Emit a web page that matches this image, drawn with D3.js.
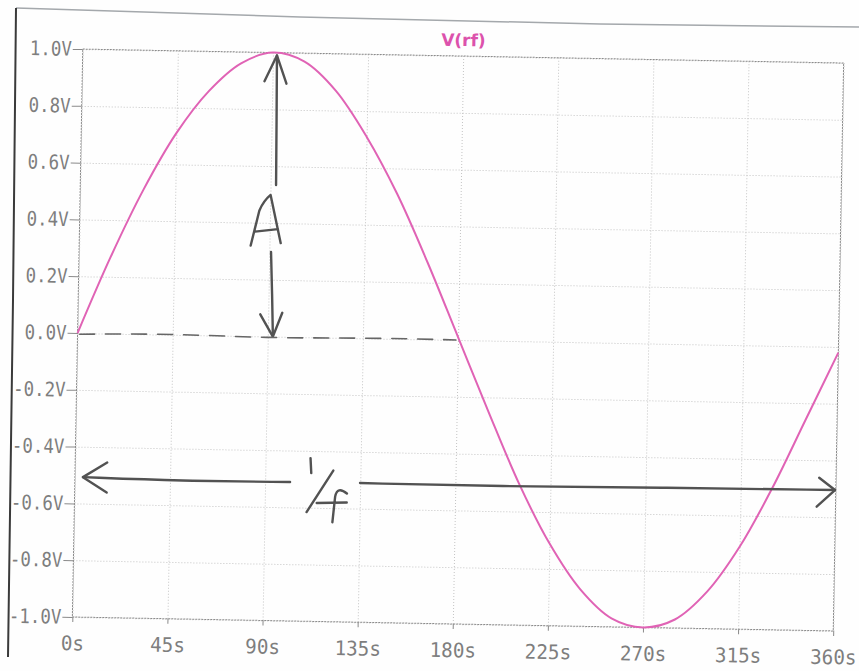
<!DOCTYPE html>
<html>
<head>
<meta charset="utf-8">
<script src="https://cdn.jsdelivr.net/npm/d3@7/dist/d3.min.js"></script>
<style>
  body { margin: 0; background: #fff; }
  svg { display: block; }
</style>
</head>
<body>
<div class="chart"></div>
<script>
// trace (seconds, volts)
const timeS = [0, 15, 30, 45, 60, 75, 90, 105, 120, 135, 150, 165, 180,
               195, 210, 225, 240, 255, 270, 285, 300, 315, 330, 345, 360];
const voltage = [0.00, 0.27, 0.51, 0.71, 0.86, 0.96, 1.00, 0.97, 0.87, 0.71, 0.51, 0.27, 0.01,
                 -0.25, -0.50, -0.71, -0.87, -0.97, -1.00, -0.97, -0.87, -0.71, -0.50, -0.26, -0.02];

const xTicks = [0, 45, 90, 135, 180, 225, 270, 315, 360];
const yTicks = [-1, -0.8, -0.6, -0.4, -0.2, 0, 0.2, 0.4, 0.6, 0.8, 1];
const traceName = "V(rf)";

// pencil notes, in data units
const ampUpperT = [91.9, 92.3, 92.6];
const ampUpperV = [0.99, 0.76, 0.534];
const ampLowerT = [90.8, 91.7, 92.4];
const ampLowerV = [0.298, 0.15, 0.0];
const zeroDashT = [1, 45, 90, 135, 179];
const zeroDashV = [-0.004, 0.004, -0.006, 0.002, 0.0];
const periodLeftT = [3.8, 50, 101.8];
const periodLeftV = [-0.507, -0.514, -0.511];
const periodRightT = [134.9, 200, 280, 359.6];
const periodRightV = [-0.51, -0.513, -0.506, -0.504];
const ampLabelAt = [92, 0.4];
const periodLabelAt = [110, -0.51];

const W = 859, H = 671;
const margin = {top: 56, right: 20.5, bottom: 47, left: 77.5};

const svg = d3.select(".chart").append("svg")
    .attr("width", W).attr("height", H);

svg.append("rect").attr("width", W).attr("height", H).attr("fill", "#fefefe");

// edges of the scanned sheet
svg.append("path")
    .attr("d", d3.line()([[16, 8], [300, 17], [600, 24], [859, 27]]))
    .attr("fill", "none").attr("stroke", "#a4a8ac").attr("stroke-width", 1.5);
svg.append("path")
    .attr("d", d3.line()([[16, 8], [13, 300], [8, 657]]))
    .attr("fill", "none").attr("stroke", "#3a3a3a").attr("stroke-width", 2);

// the whole plot sits slightly rotated on the scan
const g = svg.append("g").attr("transform", "rotate(1.05 458 340)");

const x = d3.scaleLinear().domain([0, 360]).range([margin.left, W - margin.right]);
const y = d3.scaleLinear().domain([-1, 1]).range([H - margin.bottom, margin.top]);

const fmtV = d => (d < 0 ? "-" : "") + d3.format(".1f")(Math.abs(d)) + "V";

// grid
g.append("g")
    .attr("transform", "translate(0," + y(-1) + ")")
    .call(d3.axisBottom(x).tickValues(xTicks).tickSize(y(1) - y(-1)).tickFormat(""))
    .call(a => a.select(".domain").remove())
    .selectAll("line")
    .attr("stroke", "#c4c4c4").attr("stroke-dasharray", "1,2");
g.append("g")
    .attr("transform", "translate(" + x(0) + ",0)")
    .call(d3.axisRight(y).tickValues(yTicks).tickSize(x(360) - x(0)).tickFormat(""))
    .call(a => a.select(".domain").remove())
    .selectAll("line")
    .attr("stroke", "#c4c4c4").attr("stroke-dasharray", "1,2");

// frame
g.append("rect")
    .attr("x", x(0)).attr("y", y(1))
    .attr("width", x(360) - x(0)).attr("height", y(-1) - y(1))
    .attr("fill", "none").attr("stroke", "#8c8c8c").attr("stroke-dasharray", "2,1");

// axes
const yAxis = g.append("g")
    .attr("transform", "translate(" + x(0) + ",0)")
    .call(d3.axisLeft(y).tickValues(yTicks).tickSize(10).tickPadding(1).tickFormat(fmtV));
yAxis.select(".domain").remove();
yAxis.selectAll("line").attr("stroke", "#8a8a8a");
yAxis.selectAll("text")
    .attr("fill", "#7e7e7e")
    .style("font", "20px 'DejaVu Sans Mono'")
    .attr("textLength", function(d) { return fmtV(d).length * 10.5; })
    .attr("lengthAdjust", "spacingAndGlyphs");

const xAxis = g.append("g")
    .attr("transform", "translate(0," + y(-1) + ")")
    .call(d3.axisBottom(x).tickValues(xTicks).tickSize(5).tickPadding(14).tickFormat(d => d + "s"));
xAxis.select(".domain").remove();
xAxis.selectAll("line").attr("stroke", "#8a8a8a");
xAxis.selectAll("text")
    .attr("fill", "#7e7e7e")
    .style("font", "20px 'DejaVu Sans Mono'")
    .attr("textLength", d => (d + "s").length * 11.6)
    .attr("lengthAdjust", "spacingAndGlyphs");

// trace name
g.append("text")
    .attr("x", (x(0) + x(360)) / 2).attr("y", 46)
    .attr("text-anchor", "middle")
    .attr("fill", "#dc52ac")
    .style("font", "bold 17px 'DejaVu Sans'")
    .text(traceName);

// trace
const line = d3.line()
    .x((d, i) => x(timeS[i]))
    .y(d => y(d))
    .curve(d3.curveCatmullRom);
g.append("path")
    .datum(voltage)
    .attr("d", line)
    .attr("fill", "none")
    .attr("stroke", "#e063b5")
    .attr("stroke-width", 2);

// ---- pencil annotations ----
const pencil = sel => sel.attr("fill", "none").attr("stroke", "#525252")
    .attr("stroke-width", 2.4).attr("stroke-linecap", "round").attr("stroke-linejoin", "round");
const hand = (ts, vs) => d3.line().curve(d3.curveBasis)(ts.map((t, i) => [x(t), y(vs[i])]));

// A arrow
g.append("path").attr("d", hand(ampUpperT, ampUpperV)).call(pencil);
g.append("path").attr("d", hand(ampLowerT, ampLowerV)).call(pencil);
let tx = x(ampUpperT[0]), ty = y(ampUpperV[0]);
g.append("path").attr("d", `M${tx - 12},${ty + 26}L${tx},${ty}L${tx + 10},${ty + 28}`).call(pencil);
tx = x(ampLowerT[2]); ty = y(ampLowerV[2]);
g.append("path").attr("d", `M${tx - 13},${ty - 22}L${tx},${ty}L${tx + 9},${ty - 24}`).call(pencil);
let ax = x(ampLabelAt[0]), ay = y(ampLabelAt[1]);
g.append("path")
    .attr("d", `M${ax - 23},${ay + 23}L${ax - 15},${ay - 12}Q${ax - 11},${ay - 22} ${ax - 4},${ay - 28}L${ax + 7},${ay + 20}` +
               `M${ax - 19},${ay + 9}L${ax + 4},${ay + 6}`)
    .call(pencil);

// dashed zero line
g.append("path").attr("d", hand(zeroDashT, zeroDashV)).call(pencil)
    .attr("stroke-width", 1.6).attr("stroke", "#666").attr("stroke-dasharray", "15,11");

// 1/f arrow
g.append("path").attr("d", hand(periodLeftT, periodLeftV)).call(pencil);
g.append("path").attr("d", hand(periodRightT, periodRightV)).call(pencil);
tx = x(periodLeftT[0]); ty = y(periodLeftV[0]);
g.append("path").attr("d", `M${tx + 24},${ty - 15}L${tx},${ty}L${tx + 24},${ty + 15}`).call(pencil);
tx = x(periodRightT[3]); ty = y(periodRightV[3]);
g.append("path").attr("d", `M${tx - 16},${ty - 12}L${tx},${ty}L${tx - 18},${ty + 17}`).call(pencil);
ax = x(periodLabelAt[0]); ay = y(periodLabelAt[1]);
g.append("path")
    .attr("d", `M${ax + 2.7},${ay - 24}L${ax + 3.7},${ay - 9}` +
               `M${ax + 25.7},${ay - 12}L${ax - 0.3},${ay + 30}` +
               `M${ax + 39.7},${ay + 10.7}Q${ax + 30},${ay + 3} ${ax + 28},${ay + 14}L${ax + 25.7},${ay + 39.7}` +
               `M${ax + 9.7},${ay + 20.7}L${ax + 39.7},${ay + 19.7}`)
    .call(pencil);
</script>
</body>
</html>
